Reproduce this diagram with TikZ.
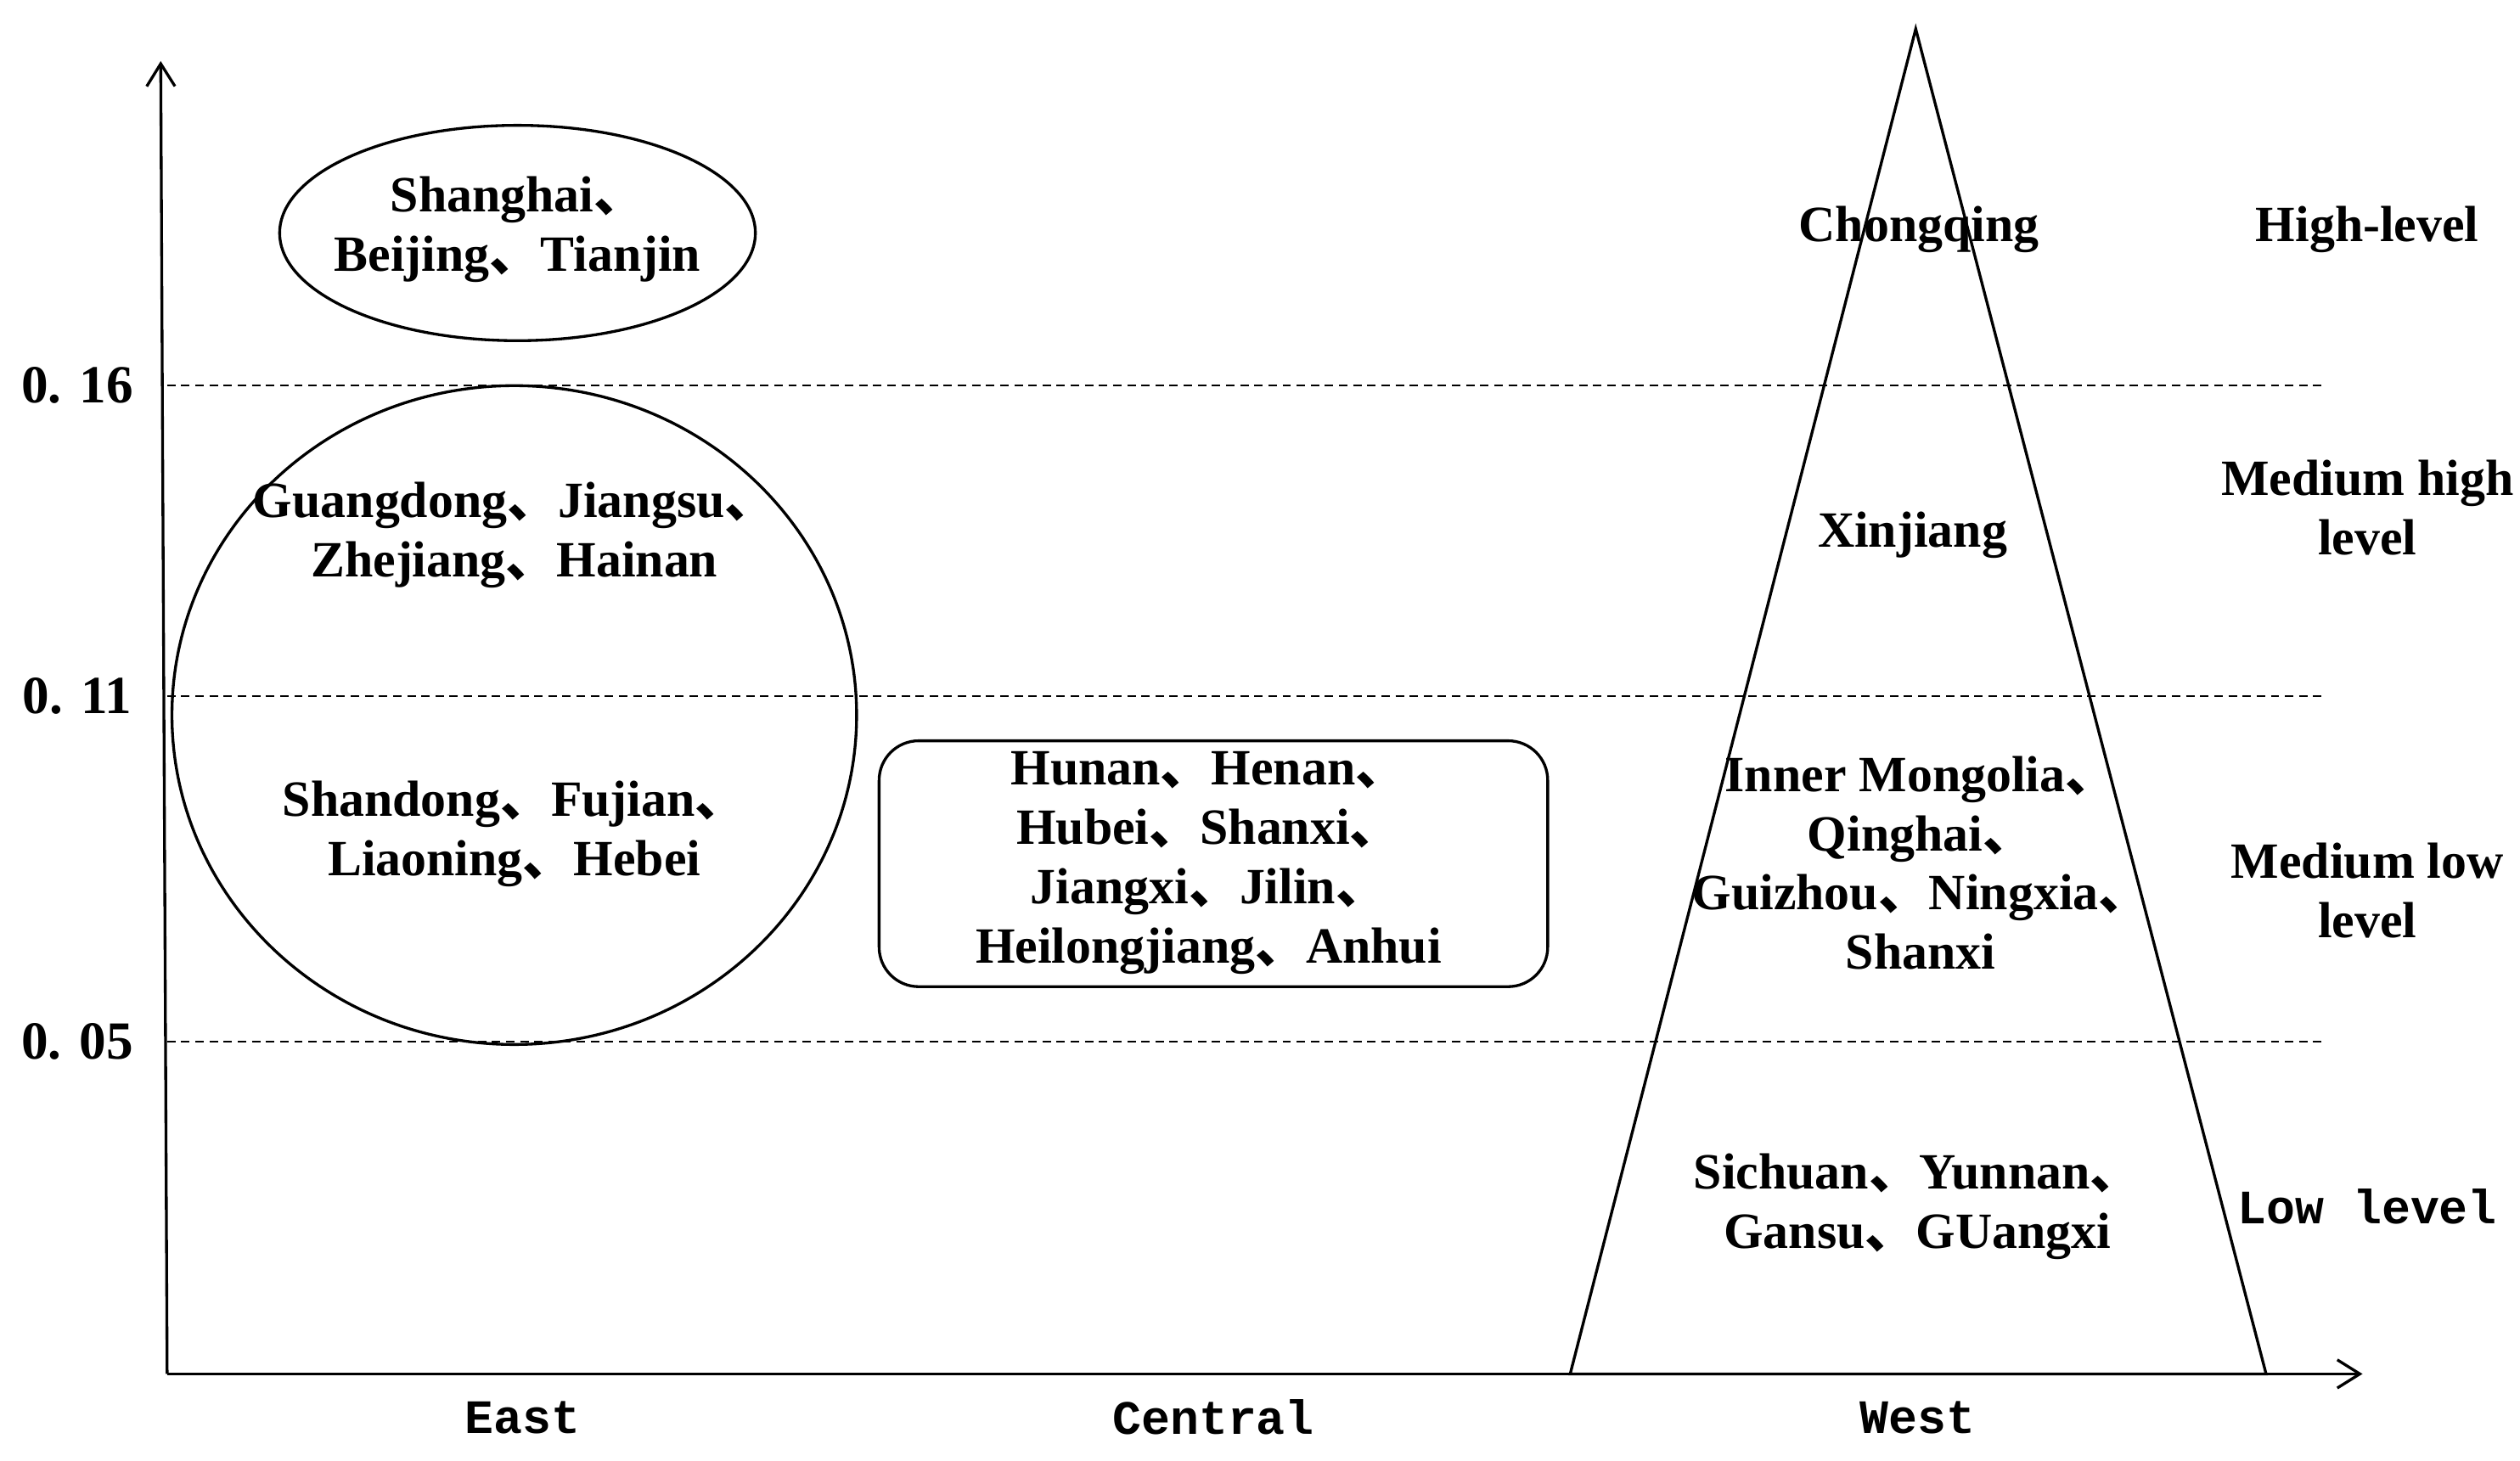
\documentclass[tikz,border=0pt]{standalone}
\usepackage{fontspec}
\setmainfont{Liberation Serif}
\newfontfamily\cjk{Noto Sans CJK SC}
\newfontfamily\mono{Liberation Mono}
\newcommand{\dn}{{\cjk 、}}
\usetikzlibrary{arrows.meta}
\begin{document}
\begin{tikzpicture}[x=0.02cm,y=-0.02cm,
  lbl/.style={font=\fontsize{18}{21}\selectfont\bfseries,align=center,inner sep=0pt},
  monol/.style={font=\fontsize{17}{20}\selectfont\mono\bfseries,align=center,inner sep=0pt},
  dashln/.style={densely dashed,line width=0.6pt},
  shp/.style={line width=1pt}]
\useasboundingbox (0,0) rectangle (1568,909);
\coordinate (o) at (104,855);
\coordinate (ytop) at (100,38);
\coordinate (xend) at (1470,855);
\draw[line width=1pt,-{Straight Barb[length=8pt,width=10pt]}] (o) -- (ytop);
\draw[line width=1pt,-{Straight Barb[length=8pt,width=10pt]}] (o) -- (xend);
\foreach \y/\t in {240/0. 16,433/0. 11,648/0. 05}{
  \draw[dashln] (104,\y) -- (1445,\y);
  \node[lbl,font=\fontsize{19}{21}\selectfont\bfseries] at (48,\y) {\t};
}
\draw[shp] (322,145) ellipse [x radius=148,y radius=67];
\draw[shp] (320,445) ellipse [x radius=213,y radius=205];
\draw[shp,rounded corners=14pt] (547,461) rectangle (963,614);
\coordinate (apex) at (1192,18);
\coordinate (bl) at (977,855);
\coordinate (br) at (1410,855);
\draw[shp] (apex) -- (bl) -- (br) -- cycle;
\node[lbl] (sh) at (322,143) {Shanghai\dn\\Beijing\dn Tianjin};
\node[lbl] (gd) at (320,333) {Guangdong\dn Jiangsu\dn\\Zhejiang\dn Hainan};
\node[lbl] (sd) at (320,519) {Shandong\dn Fujian\dn\\Liaoning\dn Hebei};
\node[lbl] (hn) at (752,537) {Hunan\dn Henan\dn\\Hubei\dn Shanxi\dn\\Jiangxi\dn Jilin\dn\\Heilongjiang\dn Anhui};
\node[lbl] (cq) at (1194,143) {Chongqing};
\node[lbl] (xj) at (1190,333) {Xinjiang};
\node[lbl] (im) at (1195,537) {Inner Mongolia\dn\\Qinghai\dn\\Guizhou\dn Ningxia\dn\\Shanxi};
\node[lbl] (sc) at (1193,751) {Sichuan\dn Yunnan\dn\\Gansu\dn GUangxi};
\node[lbl] (l1) at (1473,143) {High-level};
\node[lbl] (l2) at (1473,316) {Medium high\\level};
\node[lbl] (l3) at (1473,554) {Medium low\\level};
\node[monol] (l4) at (1473,751) {Low level};
\node[monol] (e) at (325,882) {East};
\node[monol] (c) at (755,882) {Central};
\node[monol] (w) at (1193,882) {West};
\end{tikzpicture}
\end{document}
